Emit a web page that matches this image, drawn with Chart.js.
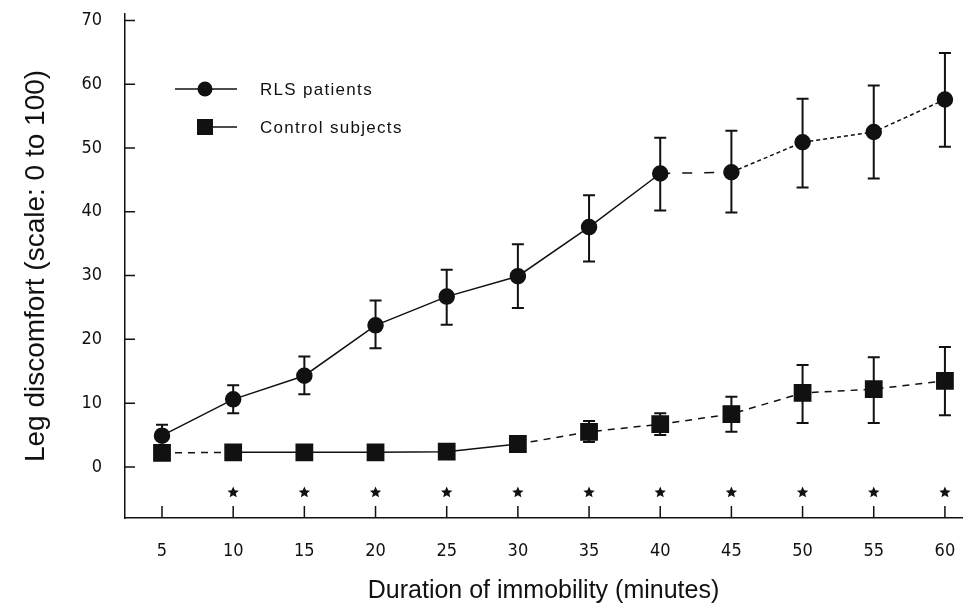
<!DOCTYPE html>
<html>
<head>
<meta charset="utf-8">
<script src="https://cdn.jsdelivr.net/npm/chart.js@4.4.1/dist/chart.umd.min.js"></script>
<style>
    html, body { margin: 0; padding: 0; background: #fff; }
    #wrap { width: 976px; height: 609px; }
</style>
</head>
<body>
<div id="wrap"><canvas id="chart"></canvas></div>
<script>
// Leg discomfort during immobilization - RLS vs controls

const minutes = [5, 10, 15, 20, 25, 30, 35, 40, 45, 50, 55, 60];

const rlsMean  = [4.9, 10.6, 14.3, 22.2, 26.7, 29.9, 37.6, 46.0, 46.2, 50.9, 52.5, 57.6];
const rlsUpper = [6.6, 12.8, 17.3, 26.1, 30.9, 34.9, 42.6, 51.6, 52.7, 57.7, 59.8, 64.9];
const rlsLower = [4.9, 8.4, 11.4, 18.6, 22.3, 24.9, 32.2, 40.2, 39.9, 43.8, 45.2, 50.2];

const ctrlMean  = [2.2, 2.3, 2.3, 2.3, 2.4, 3.6, 5.5, 6.7, 8.3, 11.6, 12.2, 13.5];
const ctrlUpper = [2.2, 2.3, 2.3, 2.3, 2.4, 3.6, 7.2, 8.4, 11.0, 16.0, 17.2, 18.8];
const ctrlLower = [2.2, 2.3, 2.3, 2.3, 2.4, 3.6, 3.9, 5.0, 5.5, 6.9, 6.9, 8.1];

// p < 0.05 markers under each time point
const significant = [false, true, true, true, true, true, true, true, true, true, true, true];

const xTicks = [5, 10, 15, 20, 25, 30, 35, 40, 45, 50, 55, 60];
const yTicks = [0, 10, 20, 30, 40, 50, 60, 70];

const INK = '#111';
const FONT = '"Liberation Sans", Arial, Helvetica, sans-serif';
const NARROW = '"Liberation Sans Narrow", "DejaVu Sans Condensed", "Liberation Sans", sans-serif';

function toPoints(values) {
    return minutes.map((m, i) => ({ x: m, y: values[i] }));
}

function drawStar(ctx, cx, cy, r) {
    ctx.beginPath();
    for (let i = 0; i < 10; i++) {
        const rad = i % 2 === 0 ? r : r * 0.45;
        const a = -Math.PI / 2 + i * Math.PI / 5;
        ctx.lineTo(cx + rad * Math.cos(a), cy + rad * Math.sin(a));
    }
    ctx.closePath();
    ctx.fill();
}

const extras = {
    id: 'extras',
    beforeDatasetsDraw(chart) {
        const { ctx, scales: { x, y } } = chart;
        ctx.save();
        ctx.strokeStyle = INK;
        ctx.lineWidth = 2;
        function bars(mean, up, lo) {
            mean.forEach((m, i) => {
                const px = x.getPixelForValue(minutes[i]);
                const pm = y.getPixelForValue(m);
                [up[i], lo[i]].forEach(v => {
                    if (Math.abs(v - m) < 0.3) return;
                    const pv = y.getPixelForValue(v);
                    ctx.beginPath();
                    ctx.moveTo(px, pm);
                    ctx.lineTo(px, pv);
                    ctx.moveTo(px - 6, pv);
                    ctx.lineTo(px + 6, pv);
                    ctx.stroke();
                });
            });
        }
        bars(rlsMean, rlsUpper, rlsLower);
        bars(ctrlMean, ctrlUpper, ctrlLower);
        ctx.restore();
    },
    afterDraw(chart) {
        const { ctx, chartArea: a, scales: { x, y } } = chart;
        ctx.save();
        ctx.strokeStyle = INK;
        ctx.fillStyle = INK;
        ctx.lineWidth = 1.5;

        // inward tick marks
        ctx.beginPath();
        xTicks.forEach(v => {
            const px = x.getPixelForValue(v);
            ctx.moveTo(px, a.bottom);
            ctx.lineTo(px, a.bottom - 12);
        });
        yTicks.forEach(v => {
            const py = y.getPixelForValue(v);
            ctx.moveTo(a.left, py);
            ctx.lineTo(a.left + 10, py);
        });
        ctx.stroke();

        // significance stars
        minutes.forEach((m, i) => {
            if (!significant[i]) return;
            drawStar(ctx, x.getPixelForValue(m), y.getPixelForValue(-4), 6);
        });

        // legend
        const lx = a.left + 50;
        const rows = [
            { label: 'RLS patients', y: 89, style: 'circle' },
            { label: 'Control subjects', y: 127, style: 'rect' }
        ];
        ctx.font = '17px ' + FONT;
        ctx.letterSpacing = '1.3px';
        ctx.textBaseline = 'middle';
        rows.forEach(r => {
            ctx.lineWidth = 1.5;
            ctx.beginPath();
            ctx.moveTo(r.style === 'circle' ? lx : lx + 30, r.y);
            ctx.lineTo(lx + 62, r.y);
            ctx.stroke();
            if (r.style === 'circle') {
                ctx.beginPath();
                ctx.arc(lx + 30, r.y, 7.5, 0, Math.PI * 2);
                ctx.fill();
            } else {
                ctx.fillRect(lx + 22, r.y - 8, 16, 16);
            }
            ctx.fillText(r.label, lx + 85, r.y + 1);
        });
        ctx.restore();
    }
};

new Chart(document.getElementById('chart'), {
    type: 'line',
    data: {
        datasets: [{
            label: 'RLS patients',
            data: toPoints(rlsMean),
            borderColor: INK,
            backgroundColor: INK,
            borderWidth: 1.5,
            pointStyle: 'circle',
            pointRadius: 7.5,
            pointHoverRadius: 7.5,
            segment: {
                borderDash: c => c.p0DataIndex === 7 ? [10, 12] : (c.p0DataIndex > 7 ? [4, 3] : undefined)
            }
        }, {
            label: 'Control subjects',
            data: toPoints(ctrlMean),
            borderColor: INK,
            backgroundColor: INK,
            borderWidth: 1.5,
            pointStyle: 'rect',
            pointRadius: 11.5,
            pointHoverRadius: 11.5,
            segment: {
                borderDash: c => (c.p0DataIndex === 0 || c.p0DataIndex > 4) ? [7, 6] : undefined
            }
        }]
    },
    options: {
        responsive: true,
        maintainAspectRatio: false,
        animation: false,
        layout: { padding: { top: 14, right: 14 } },
        plugins: {
            legend: { display: false },
            tooltip: { enabled: false }
        },
        scales: {
            x: {
                type: 'linear',
                min: 2.4,
                max: 61.2,
                afterBuildTicks: s => { s.ticks = xTicks.map(v => ({ value: v })); },
                afterFit: s => { s.height = 91; s.paddingLeft = 0; s.paddingRight = 0; },
                grid: { display: false, drawTicks: false },
                border: { display: true, color: INK, width: 1.5 },
                ticks: {
                    padding: 23,
                    color: INK,
                    font: { family: NARROW, size: 18 },
                    maxRotation: 0,
                    autoSkip: false
                },
                title: {
                    display: true,
                    text: 'Duration of immobility (minutes)',
                    color: INK,
                    font: { family: FONT, size: 25 },
                    padding: { top: 0, bottom: 3 }
                }
            },
            y: {
                min: -8,
                max: 71,
                afterBuildTicks: s => { s.ticks = yTicks.map(v => ({ value: v })); },
                afterFit: s => { s.width = 125; s.paddingTop = 0; s.paddingBottom = 0; },
                grid: { display: false, drawTicks: false },
                border: { display: true, color: INK, width: 1.5 },
                ticks: {
                    padding: 23,
                    color: INK,
                    font: { family: NARROW, size: 18 }
                },
                title: {
                    display: true,
                    text: 'Leg discomfort (scale: 0 to 100)',
                    color: INK,
                    font: { family: FONT, size: 28 },
                    padding: { top: 19, bottom: 0 }
                }
            }
        }
    },
    plugins: [extras]
});
</script>
</body>
</html>
